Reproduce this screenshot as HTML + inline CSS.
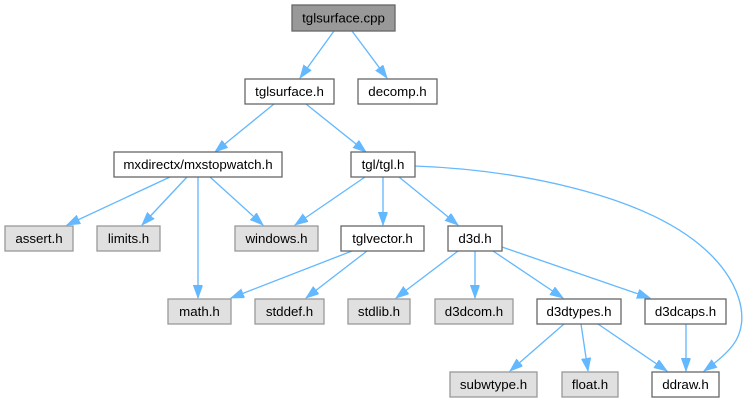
<!DOCTYPE html>
<html><head><meta charset="utf-8"><style>
html,body{margin:0;padding:0;background:#fff;width:750px;height:403px;overflow:hidden}
svg text{font-family:"Liberation Sans",Arial,sans-serif;font-size:13.3px;fill:#000;text-anchor:middle}
.w{fill:#fff;stroke:#666;stroke-width:1.3}
.g{fill:#e0e0e0;stroke:#999;stroke-width:1.3}
.r{fill:#999;stroke:#666;stroke-width:1.3}
.e{fill:none;stroke:#63b8ff;stroke-width:1.33;marker-end:url(#a)}
</style></head><body>
<svg width="750" height="403" viewBox="0 0 750 403" xmlns="http://www.w3.org/2000/svg">
<defs><marker id="a" markerUnits="userSpaceOnUse" markerWidth="14" markerHeight="10" refX="13" refY="4.7" orient="auto"><path d="M0,0 L13,4.7 L0,9.4 z" fill="#63b8ff" stroke="#63b8ff" stroke-width="0.8"/></marker></defs>
<!-- edges -->
<path class="e" d="M334,31 L300,78"/>
<path class="e" d="M352,31 L387,78"/>
<path class="e" d="M274,104 L215,152"/>
<path class="e" d="M306,104 L366,152"/>
<path class="e" d="M170,177 L67,225"/>
<path class="e" d="M187,177 L142,225"/>
<path class="e" d="M198,177 L198,298"/>
<path class="e" d="M210,177 L263,225"/>
<path class="e" d="M365,177 L295,225"/>
<path class="e" d="M383,177 L383,225"/>
<path class="e" d="M399,177 L458,225"/>
<path class="e" d="M415,166 C520,170 640,195 700,245 C740,278 752,320 733,345 C727,353 718,361 704,371"/>
<path class="e" d="M352,251 L231,298"/>
<path class="e" d="M367,251 L306,298"/>
<path class="e" d="M458,251 L396,298"/>
<path class="e" d="M475,251 L475,298"/>
<path class="e" d="M493,251 L563,298"/>
<path class="e" d="M502,247 L650,298"/>
<path class="e" d="M564,324 L510,371"/>
<path class="e" d="M581,324 L588,371"/>
<path class="e" d="M598,324 L667,371"/>
<path class="e" d="M686,324 L686,371"/>
<!-- nodes -->
<rect class="r" x="292" y="5" width="103" height="26"/><text x="343.5" y="22.5">tglsurface.cpp</text>
<rect class="w" x="245" y="79" width="89" height="25"/><text x="289.5" y="96">tglsurface.h</text>
<rect class="w" x="358" y="79" width="79" height="25"/><text x="397.5" y="96">decomp.h</text>
<rect class="w" x="114" y="152" width="168" height="25"/><text x="198" y="169">mxdirectx/mxstopwatch.h</text>
<rect class="w" x="351" y="152" width="64" height="25"/><text x="383" y="169">tgl/tgl.h</text>
<rect class="g" x="5" y="226" width="68" height="25"/><text x="39" y="243">assert.h</text>
<rect class="g" x="97" y="226" width="63" height="25"/><text x="128.5" y="243">limits.h</text>
<rect class="g" x="235" y="226" width="83" height="25"/><text x="276.5" y="243">windows.h</text>
<rect class="w" x="341" y="226" width="83" height="25"/><text x="382.5" y="243">tglvector.h</text>
<rect class="w" x="448" y="226" width="54" height="25"/><text x="475" y="243">d3d.h</text>
<rect class="g" x="168" y="299" width="63" height="25"/><text x="199.5" y="316">math.h</text>
<rect class="g" x="255" y="299" width="69" height="25"/><text x="289.5" y="316">stddef.h</text>
<rect class="g" x="348" y="299" width="62" height="25"/><text x="379" y="316">stdlib.h</text>
<rect class="g" x="435" y="299" width="78" height="25"/><text x="474" y="316">d3dcom.h</text>
<rect class="w" x="537" y="299" width="84" height="25"/><text x="579" y="316">d3dtypes.h</text>
<rect class="w" x="645" y="299" width="81" height="25"/><text x="685.5" y="316">d3dcaps.h</text>
<rect class="g" x="450" y="372" width="87" height="25"/><text x="493.5" y="389">subwtype.h</text>
<rect class="g" x="562" y="372" width="56" height="25"/><text x="590" y="389">float.h</text>
<rect class="w" x="652" y="372" width="67" height="25"/><text x="685.5" y="389">ddraw.h</text>
</svg>
</body></html>
